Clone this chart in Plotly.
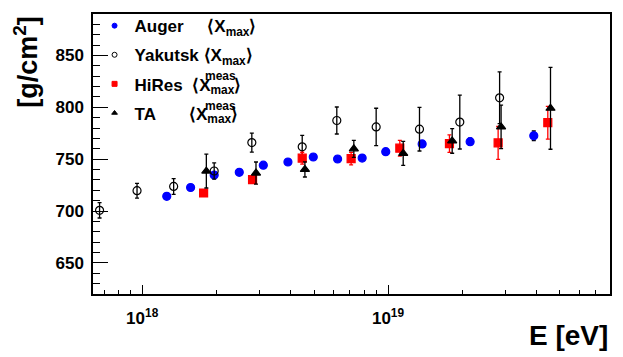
import plotly.graph_objects as go

# ---- data ----
auger_E = [1.259e18, 1.574e18, 1.963e18, 2.483e18, 3.11e18, 3.917e18, 4.966e18,
           6.237e18, 7.85e18, 9.79e18, 1.377e19, 2.158e19, 3.917e19]
auger_X = [714.2, 722.7, 734.7, 737.3, 744.2, 747.3, 752.1, 750.2, 751.1, 757.2,
           764.7, 766.9, 772.6]
auger_err = [1.5, 1.5, 1.5, 1.5, 1.5, 1.5, 2, 2, 2, 2.5, 3, 3.5, 4.6]

yak_E = [6.71e17, 9.53e17, 1.343e18, 1.963e18, 2.793e18, 4.477e18, 6.19e18,
         8.95e18, 1.343e19, 1.959e19, 2.844e19]
yak_X = [700.7, 719.6, 723.7, 738.6, 766.0, 761.9, 787.3, 781.1, 778.9, 785.8, 809.2]
yak_err = [7.4, 7.1, 7.6, 7.9, 9.2, 11, 13, 18, 21, 26, 25]

hires_E = [1.778e18, 2.812e18, 4.477e18, 7.079e18, 1.117e19, 1.778e19, 2.805e19, 4.467e19]
hires_X = [717.4, 730.3, 751.0, 750.5, 760.6, 765.0, 765.7, 785.2]
hires_err = [2.8, 2.8, 5.7, 6.0, 7.6, 8.5, 15.8, 15.8]

ta_E = [1.824e18, 2.904e18, 4.592e18, 7.261e18, 1.153e19, 1.824e19, 2.884e19, 4.581e19]
ta_X = [738.5, 736.6, 740.1, 760.0, 755.6, 767.6, 781.1, 799.1]
ta_err = [16.3, 10.7, 7.3, 8.2, 11.6, 11.9, 21, 39.5]

x_major = [1e18, 1e19]
x_major_text = ["10<sup>18</sup>", "10<sup>19</sup>"]
x_minor = [float(m) * 10.0 ** e for e in (17, 18, 19) for m in range(2, 10)]
y_major = [650, 700, 750, 800, 850]

NB = "\u00a0"
legend_names = [
    "Auger" + NB * 5 + "⟨X<sub>max</sub>⟩",
    "Yakutsk" + NB + "⟨X<sub>max</sub>⟩",
    "HiRes" + NB * 2 + "⟨X<sub>max</sub>⟩",
    "TA" + NB * 7 + "⟨X<sub>max</sub>⟩",
]
sup_text = "meas"

FONT = "Liberation Sans, Arial, Helvetica, sans-serif"
LFONT = "Liberation Sans Narrow, Arial Narrow, Liberation Sans, sans-serif"

fig = go.Figure()

def add(name, E, X, err, symbol, color, ecolor, group):
    fig.add_trace(go.Scatter(
        x=E, y=X, mode="markers", showlegend=False,
        marker=dict(symbol=symbol, size=8, color=color,
                    line=dict(width=1.2, color=color if "open" not in symbol else "black")),
        error_y=dict(type="data", array=err, visible=True, color=ecolor,
                     thickness=1.3, width=2),
    ))
    # legend-only entry (small legend symbol like the reference)
    fig.add_trace(go.Scatter(
        x=[None], y=[None], mode="markers", name=name, legendgroup=group,
        marker=dict(symbol=symbol, size=5, color=color,
                    line=dict(width=1, color=color if "open" not in symbol else "black")),
    ))

add(legend_names[0], auger_E, auger_X, auger_err, "circle", "#0000ff", "black", "a")
add(legend_names[1], yak_E, yak_X, yak_err, "circle-open", "black", "black", "b")
add(legend_names[2], hires_E, hires_X, hires_err, "square", "#ff0000", "#ff0000", "c")
add(legend_names[3], ta_E, ta_X, ta_err, "triangle-up", "black", "black", "d")

fig.update_layout(
    width=623, height=357,
    margin=dict(l=93, r=13, t=8, b=63),
    paper_bgcolor="white", plot_bgcolor="white",
    font=dict(family=FONT, color="black"),
    showlegend=True,
    legend=dict(x=0.003, y=1.021, xanchor="left", yanchor="top",
                bgcolor="rgba(0,0,0,0)", borderwidth=0,
                font=dict(family=LFONT, size=17, color="black", weight="bold"),
                traceorder="grouped", tracegroupgap=4),
    xaxis=dict(type="log", range=[17.8, 19.903],
               tickmode="array", tickvals=x_major, ticktext=x_major_text,
               ticks="inside", ticklen=9, tickwidth=1, tickcolor="black",
               showline=True, linecolor="black", linewidth=1.5, mirror=True,
               showgrid=False, zeroline=False,
               tickfont=dict(family=FONT, size=17, color="black", weight="bold"),
               ticklabelstandoff=8,
               minor=dict(tickmode="array", tickvals=x_minor, ticks="inside",
                          ticklen=4.5, tickwidth=1, tickcolor="black", showgrid=False)),
    yaxis=dict(range=[620, 890],
               tickmode="array", tickvals=y_major,
               ticks="inside", ticklen=15, tickwidth=1, tickcolor="black",
               showline=True, linecolor="black", linewidth=1.5, mirror=True,
               showgrid=False, zeroline=False,
               tickfont=dict(family=FONT, size=17, color="black", weight="bold"),
               ticklabelstandoff=4,
               minor=dict(dtick=10, ticks="inside", ticklen=7.5, tickwidth=1,
                          tickcolor="black", showgrid=False)),
    annotations=[
        dict(text="E [eV]", xref="paper", yref="paper", x=1.0, y=-0.085,
             xanchor="right", yanchor="top", showarrow=False,
             font=dict(family=FONT, size=28, color="black", weight="bold")),
        dict(text="[g/cm<sup>2</sup>]", xref="paper", yref="paper",
             x=-0.13, y=1.0, xanchor="center", yanchor="top", textangle=-90,
             showarrow=False,
             font=dict(family=FONT, size=27, color="black", weight="bold")),
        dict(text=sup_text, xref="paper", yref="paper", x=0.2465, y=0.7775,
             xanchor="center", yanchor="middle", showarrow=False,
             font=dict(family=LFONT, size=12, color="black", weight="bold")),
        dict(text=sup_text, xref="paper", yref="paper", x=0.2465, y=0.6725,
             xanchor="center", yanchor="middle", showarrow=False,
             font=dict(family=LFONT, size=12, color="black", weight="bold")),
    ],
)

fig.write_html("out.html", config={"displayModeBar": False},
               post_script="document.body.style.margin='0px';document.body.style.overflow='hidden';")
